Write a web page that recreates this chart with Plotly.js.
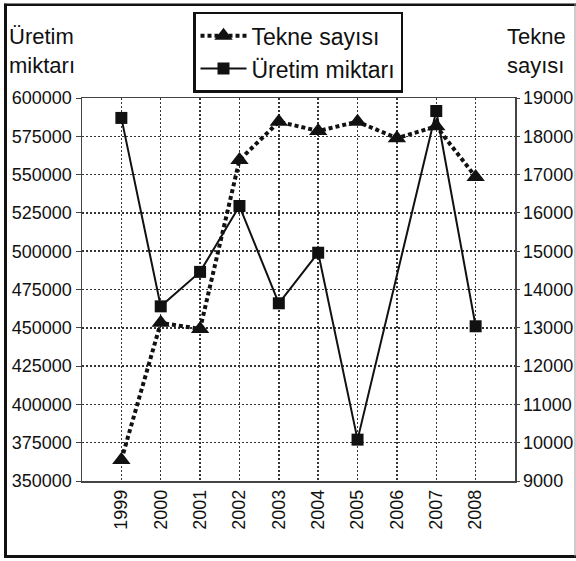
<!DOCTYPE html>
<html>
<head>
<meta charset="utf-8">
<script src="https://cdn.plot.ly/plotly-3.0.1.min.js"></script>
<style>html,body{margin:0;padding:0;background:#fff;}#chart{width:576px;height:561px;}</style>
</head>
<body>
<div id="chart"></div>
<script>
// Data
var years = ['1999','2000','2001','2002','2003','2004','2005','2006','2007','2008'];
var tekneSayisi = [9550, 13130, 12970, 17380, 18380, 18140, 18380, 17950, 18260, 16940];
var uretimMiktari = [587000, 464000, 486500, 529500, 466000, 499000, 377000, null, 591500, 451000];
var leftTicks = [350000, 375000, 400000, 425000, 450000, 475000, 500000, 525000, 550000, 575000, 600000];
var rightTicks = [9000, 10000, 11000, 12000, 13000, 14000, 15000, 16000, 17000, 18000, 19000];

var FONT = 'Liberation Sans, Arial, sans-serif';
var INK = '#111';

var traces = [
  {
    x: years, y: tekneSayisi, name: 'Tekne sayısı', yaxis: 'y2',
    type: 'scatter', mode: 'lines+markers',
    line: {color: INK, width: 4, dash: '4px,3px'},
    marker: {symbol: 'triangle-up', size: 16, color: INK}
  },
  {
    x: years, y: uretimMiktari, name: 'Üretim miktarı', yaxis: 'y',
    type: 'scatter', mode: 'lines+markers', connectgaps: true,
    line: {color: INK, width: 2},
    marker: {symbol: 'square', size: 12, color: INK}
  }
];

function px2x(p){ return (p - 82) / 433; }
function py2y(p){ return (481 - p) / 386; }

var titleFont = {family: FONT, size: 22, color: INK};

var layout = {
  width: 576, height: 561,
  margin: {l: 82, r: 61, t: 95, b: 80, pad: 0},
  paper_bgcolor: '#fff', plot_bgcolor: '#fff',
  font: {family: FONT, size: 18, color: INK},
  showlegend: true,
  legend: {
    x: px2x(193), y: py2y(8), xanchor: 'left', yanchor: 'top',
    bordercolor: INK, borderwidth: 2.5, bgcolor: '#fff',
    font: {family: FONT, size: 23, color: INK},
    itemwidth: 46, tracegroupgap: 0
  },
  xaxis: {
    type: 'category', range: [-1, 10],
    showline: true, mirror: true, linecolor: '#444', linewidth: 1.5,
    showgrid: true, gridcolor: '#333', gridwidth: 1.5, griddash: '2px,2px',
    ticks: '', tickangle: -90, tickfont: {family: FONT, size: 18, color: INK},
    zeroline: false, fixedrange: true
  },
  yaxis: {
    range: [350000, 600000], tickvals: leftTicks, tickformat: 'd',
    showline: true, linecolor: '#444', linewidth: 1.5,
    showgrid: true, gridcolor: '#333', gridwidth: 1.5, griddash: '2px,2px',
    ticks: 'outside', ticklen: 5, tickcolor: '#444', tickwidth: 1,
    tickfont: {family: FONT, size: 18, color: INK},
    zeroline: false
  },
  yaxis2: {
    overlaying: 'y', side: 'right',
    range: [9000, 19000], tickvals: rightTicks, tickformat: 'd',
    showline: true, linecolor: '#444', linewidth: 1.5,
    showgrid: false,
    ticks: 'outside', ticklen: 3, tickcolor: '#444', tickwidth: 1,
    tickfont: {family: FONT, size: 18, color: INK},
    zeroline: false
  },
  annotations: [
    {text: 'Üretim', xref: 'paper', yref: 'paper', x: px2x(8), y: py2y(33), xanchor: 'left', yanchor: 'middle', showarrow: false, borderpad: 0, font: titleFont},
    {text: 'miktarı', xref: 'paper', yref: 'paper', x: px2x(8), y: py2y(62), xanchor: 'left', yanchor: 'middle', showarrow: false, borderpad: 0, font: titleFont},
    {text: 'Tekne', xref: 'paper', yref: 'paper', x: px2x(506), y: py2y(33), xanchor: 'left', yanchor: 'middle', showarrow: false, borderpad: 0, font: titleFont},
    {text: 'sayısı', xref: 'paper', yref: 'paper', x: px2x(506), y: py2y(62), xanchor: 'left', yanchor: 'middle', showarrow: false, borderpad: 0, font: titleFont}
  ],
  shapes: [
    {type: 'line', xref: 'paper', yref: 'paper', x0: px2x(5.5), x1: px2x(5.5), y0: py2y(0), y1: py2y(558), line: {color: INK, width: 3}},
    {type: 'line', xref: 'paper', yref: 'paper', x0: px2x(4), x1: px2x(576), y0: py2y(1), y1: py2y(1), line: {color: INK, width: 2.5}},
    {type: 'line', xref: 'paper', yref: 'paper', x0: px2x(4), x1: px2x(576), y0: py2y(557), y1: py2y(557), line: {color: INK, width: 3}},
    {type: 'line', xref: 'paper', yref: 'paper', x0: px2x(575), x1: px2x(575), y0: py2y(0), y1: py2y(557), line: {color: '#999', width: 1}}
  ]
};

Plotly.newPlot('chart', traces, layout, {displayModeBar: false, staticPlot: true});
</script>
</body>
</html>
